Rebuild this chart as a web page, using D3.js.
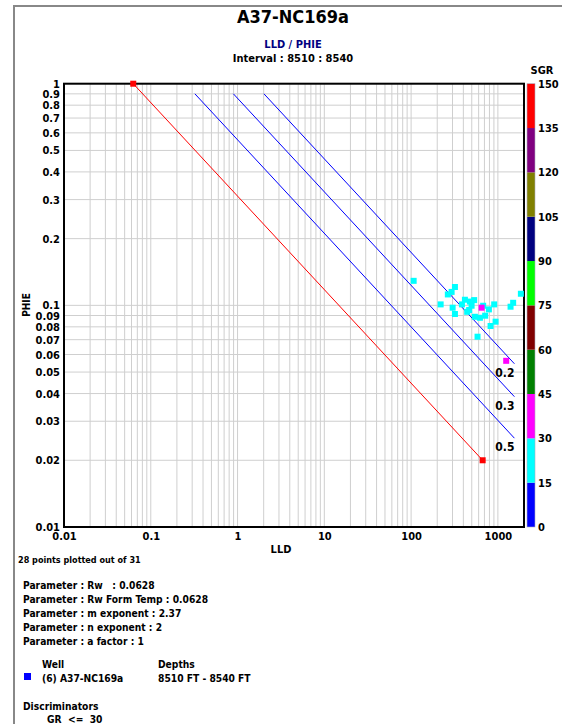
<!DOCTYPE html>
<html>
<head>
<meta charset="utf-8">
<script src="https://cdn.jsdelivr.net/npm/d3@7"></script>
<style>
  body { margin: 0; background: #fff; }
  text { font-family: "DejaVu Sans Condensed", "DejaVu Sans", sans-serif; font-weight: bold; }
</style>
</head>
<body>
<svg id="chart"></svg>
<script>
// points
var lld  = [107, 320, 293, 265, 219, 301, 320, 417, 476, 533, 498, 467, 443, 677, 649, 788, 907, 543, 621, 714, 941, 824, 583, 1400, 1500, 1841, 1247, 385];
var phie = [0.129, 0.121, 0.115, 0.112, 0.101, 0.0976, 0.0914, 0.106, 0.104, 0.1056, 0.0996, 0.0953, 0.0935, 0.0996, 0.0976, 0.0959, 0.101, 0.0888, 0.0879, 0.0898, 0.0844, 0.0807, 0.0722, 0.0986, 0.1027, 0.1128, 0.0562, 0.101];
var sgr  = [22, 24, 21, 23, 20, 25, 22, 26, 24, 23, 27, 21, 22, 25, 34, 24, 26, 23, 22, 25, 21, 24, 27, 23, 22, 26, 36, 24];

// archie parameters + saturation lines
var rw = 0.0628, mExp = 2.37, nExp = 2, aFac = 1;
var swLines = [1, 0.5, 0.3, 0.2];
var swColors = ["#ff0000", "#0000ff", "#0000ff", "#0000ff"];
var rtMax = 1550;

var sgrBreaks = [0, 15, 30, 45, 60, 75, 90, 105, 120, 135, 150];
var sgrColors = ["#0000ff", "#00ffff", "#ff00ff", "#008000", "#800000", "#00ff00", "#000080", "#808000", "#800080", "#ff0000"];

var xTicks = [0.01, 0.1, 1, 10, 100, 1000];
var yTicks = [0.01, 0.02, 0.03, 0.04, 0.05, 0.06, 0.07, 0.08, 0.09, 0.1, 0.2, 0.3, 0.4, 0.5, 0.6, 0.7, 0.8, 0.9, 1];

var paramLines = ["Parameter : Rw   : 0.0628", "Parameter : Rw Form Temp : 0.0628", "Parameter : m exponent : 2.37",
                  "Parameter : n exponent : 2", "Parameter : a factor : 1"];

var W = 562, H = 724;
var pL = 64, pR = 524, pT = 83.7, pB = 527;

var svg = d3.select("#chart").attr("width", W).attr("height", H);

var x = d3.scaleLog().domain([0.01, 2000]).range([pL, pR]);
var y = d3.scaleLog().domain([0.01, 1]).range([pB, pT]);
var yc = d3.scaleLinear().domain([0, 150]).range([pB, pT]);
var col = d3.scaleThreshold().domain(sgrBreaks.slice(1, -1)).range(sgrColors);

// outer frame
svg.append("path")
  .attr("d", "M14," + H + " L14,6 L" + W + ",6")
  .attr("fill", "none").attr("stroke", "#888").attr("stroke-width", 2);

// titles
svg.append("text").attr("x", 293).attr("y", 23).attr("text-anchor", "middle")
  .style("font-size", "18px").text("A37-NC169a");
svg.append("text").attr("x", 293).attr("y", 48).attr("text-anchor", "middle")
  .style("font-size", "11px").attr("fill", "#000080").text("LLD / PHIE");
svg.append("text").attr("x", 293).attr("y", 62).attr("text-anchor", "middle")
  .style("font-size", "11px").text("Interval : 8510 : 8540");

// grid
var g = svg.append("g");
g.selectAll(".gx").data(x.ticks()).enter().append("line")
  .attr("x1", function (d) { return x(d); }).attr("x2", function (d) { return x(d); })
  .attr("y1", pT).attr("y2", pB)
  .attr("stroke", "#cfcfcf").attr("stroke-width", 1);
g.selectAll(".gy").data(y.ticks()).enter().append("line")
  .attr("y1", function (d) { return y(d); }).attr("y2", function (d) { return y(d); })
  .attr("x1", pL).attr("x2", pR)
  .attr("stroke", "#cfcfcf").attr("stroke-width", 1);

// axes
var fmt = d3.format("~g");
var xAxis = svg.append("g").attr("transform", "translate(0," + pB + ")")
  .call(d3.axisBottom(x).tickValues(xTicks).tickSize(0).tickPadding(5).tickFormat(fmt));
var yAxis = svg.append("g").attr("transform", "translate(" + (pL - 4) + ",0)")
  .call(d3.axisLeft(y).tickValues(yTicks).tickSize(0).tickPadding(0).tickFormat(fmt));
[xAxis, yAxis].forEach(function (a) {
  a.select(".domain").remove();
  a.selectAll("text").attr("fill", "#000").style("font-size", "11px")
    .style("font-family", "'DejaVu Sans Condensed','DejaVu Sans',sans-serif").style("font-weight", "bold");
});

svg.append("text").attr("x", 281).attr("y", 553).attr("text-anchor", "middle")
  .style("font-size", "11px").text("LLD");
svg.append("text").attr("transform", "translate(30,305) rotate(-90)").attr("text-anchor", "middle")
  .style("font-size", "10px").text("PHIE");

// plot border
svg.append("rect").attr("x", pL).attr("y", pT).attr("width", pR - pL).attr("height", pB - pT)
  .attr("fill", "none").attr("stroke", "#000").attr("stroke-width", 2);

// saturation lines
var lines = svg.append("g");
swLines.forEach(function (sw, i) {
  var phiTop = sw === 1 ? 1 : 0.9;
  var phiEnd = sw === 1 ? 0.02 : Math.pow(aFac * rw / (rtMax * Math.pow(sw, nExp)), 1 / mExp);
  var rt = function (p) { return aFac * rw / (Math.pow(p, mExp) * Math.pow(sw, nExp)); };
  var ends = [[rt(phiTop), phiTop], [rt(phiEnd), phiEnd]];
  lines.append("line")
    .attr("x1", x(ends[0][0])).attr("y1", y(ends[0][1]))
    .attr("x2", x(ends[1][0])).attr("y2", y(ends[1][1]))
    .attr("stroke", swColors[i]).attr("stroke-width", 1);
  if (sw === 1) {
    lines.selectAll(".endpt").data(ends).enter().append("rect")
      .attr("x", function (d) { return x(d[0]) - 3; }).attr("y", function (d) { return y(d[1]) - 3; })
      .attr("width", 6).attr("height", 6).attr("fill", "#ff0000");
  } else {
    lines.append("text").attr("x", x(ends[1][0])).attr("y", y(ends[1][1]) + 13)
      .attr("text-anchor", "end").style("font-size", "12px").text(sw);
  }
});

// data points
var pts = lld.map(function (v, i) { return { lld: v, phie: phie[i], sgr: sgr[i] }; });
svg.append("g").selectAll("rect").data(pts).enter().append("rect")
  .attr("x", function (d) { return x(d.lld) - 3; })
  .attr("y", function (d) { return y(d.phie) - 3; })
  .attr("width", 6).attr("height", 6)
  .attr("fill", function (d) { return col(d.sgr); });

// color bar
var bands = sgrBreaks.slice(0, -1).map(function (b, i) { return { lo: b, hi: sgrBreaks[i + 1], c: sgrColors[i] }; });
svg.append("g").selectAll("rect").data(bands).enter().append("rect")
  .attr("x", 527).attr("width", 8)
  .attr("y", function (d) { return yc(d.hi); })
  .attr("height", function (d) { return yc(d.lo) - yc(d.hi); })
  .attr("fill", function (d) { return d.c; });
svg.append("rect").attr("x", 527).attr("y", pT).attr("width", 8).attr("height", pB - pT)
  .attr("fill", "none").attr("stroke", "#aab").attr("stroke-width", 0.6);
svg.append("g").selectAll("text").data(sgrBreaks).enter().append("text")
  .attr("x", 538).attr("y", function (d) { return yc(d) + 4; })
  .style("font-size", "11px").text(function (d) { return d; });
svg.append("text").attr("x", 542).attr("y", 74).attr("text-anchor", "middle")
  .style("font-size", "11px").text("SGR");

// notes below
var notes = svg.append("g").style("font-size", "10.2px");
notes.append("text").attr("x", 18).attr("y", 563).style("font-size", "9px").text("28 points plotted out of 31");
notes.selectAll(".p").data(paramLines).enter().append("text")
  .attr("x", 23).attr("y", function (d, i) { return 589 + i * 14; })
  .attr("xml:space", "preserve").text(function (d) { return d; });
notes.append("text").attr("x", 42).attr("y", 668).text("Well");
notes.append("text").attr("x", 158).attr("y", 668).text("Depths");
notes.append("rect").attr("x", 24).attr("y", 673).attr("width", 7).attr("height", 7).attr("fill", "#0000ff");
notes.append("text").attr("x", 42).attr("y", 682).text("(6) A37-NC169a");
notes.append("text").attr("x", 158).attr("y", 682).text("8510 FT - 8540 FT");
notes.append("text").attr("x", 23).attr("y", 710).text("Discriminators");
notes.append("text").attr("x", 47).attr("y", 723).attr("xml:space", "preserve").text("GR  <=  30");
</script>
</body>
</html>
